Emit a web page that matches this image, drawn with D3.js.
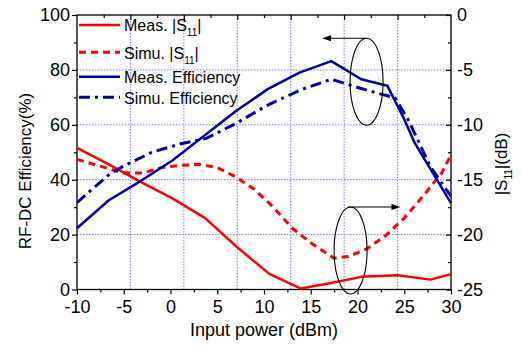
<!DOCTYPE html>
<html>
<head>
<meta charset="utf-8">
<script src="https://cdn.jsdelivr.net/npm/d3@7"></script>
<style>
  body { margin: 0; background: #fff; }
  svg { font-family: Arial, "Liberation Sans", sans-serif; }
</style>
</head>
<body>
<script>
// input power (dBm) vs efficiency (%) and |S11| (dB)

const measEff = [
  [-10, 22.3], [-6.6, 32.5], [-3.2, 39.5], [0.2, 47], [3.6, 56], [7, 65],
  [10.4, 73], [13.8, 79], [17.2, 83.2], [20.4, 76.6], [23.2, 74.2],
  [25, 62], [26.1, 53.5], [30, 31.5]
];
const simuEff = [
  [-10, 31.6], [-8.4, 36.5], [-6.4, 42.3], [-5, 45], [-2, 50], [1, 53],
  [3.8, 55], [7, 60.5], [10.3, 67], [13.9, 72.7], [17.2, 76.6],
  [20.3, 73.3], [24, 69.8], [25.4, 62], [27.8, 44.7], [30, 34]
];
const measS11 = [
  [-10, -12.1], [-6.6, -13.6], [-3.2, -15.2], [0.2, -16.7], [3.7, -18.5],
  [7.2, -21.2], [10.6, -23.6], [13.9, -24.9], [17.2, -24.4], [20.4, -23.85],
  [24.3, -23.7], [27.8, -24.1], [30, -23.6]
];
const simuS11 = [
  [-10, -13.15], [-7, -13.9], [-5, -14.4], [-3, -14.4], [-1, -13.9], [1, -13.7],
  [3, -13.6], [5, -13.9], [7, -14.75], [9, -15.9], [11, -17.5], [13, -19.4],
  [15, -20.75], [17.5, -22.15], [19, -22], [21, -21.3], [23, -20.1],
  [25, -18.5], [27, -16.5], [29, -14.4], [30, -12.75]
];

const xTicks = [-10, -5, 0, 5, 10, 15, 20, 25, 30];
const leftTicks = [0, 20, 40, 60, 80, 100];
const rightTicks = [-25, -20, -15, -10, -5, 0];

const width = 521, height = 347;
const margin = { top: 15, right: 70, bottom: 57.5, left: 77 };
const innerW = width - margin.left - margin.right;
const innerH = height - margin.top - margin.bottom;

const red = '#ff0000';
const blue = '#00009f';

const x = d3.scaleLinear().domain([-10, 30]).range([0, innerW]);
const yL = d3.scaleLinear().domain([0, 100]).range([innerH, 0]);
const yR = d3.scaleLinear().domain([-25, 0]).range([innerH, 0]);

const svg = d3.select('body').append('svg')
  .attr('width', width)
  .attr('height', height);

const g = svg.append('g')
  .attr('transform', `translate(${margin.left},${margin.top})`);

// grid: vertical lines split the range in 7, horizontal follow the left ticks
const nDiv = 7;
const gridX = d3.range(1, nDiv).map(i => -10 + i * 40 / nDiv);
g.append('g').selectAll('line')
  .data(gridX)
  .join('line')
  .attr('x1', d => x(d)).attr('x2', d => x(d))
  .attr('y1', 0).attr('y2', innerH)
  .attr('stroke', '#7a7aff').attr('stroke-width', 1)
  .attr('stroke-dasharray', '1.5,1.5');
g.append('g').selectAll('line')
  .data([20, 40, 60, 80])
  .join('line')
  .attr('x1', 0).attr('x2', innerW)
  .attr('y1', d => yL(d)).attr('y2', d => yL(d))
  .attr('stroke', '#7a7aff').attr('stroke-width', 1)
  .attr('stroke-dasharray', '1.5,1.5');

// axes (plain hyphen for negatives, like the original)
const fontSize = '18px';
const plain = d => String(d);
const minorX = d3.range(-7.5, 30, 5);
g.append('g')
  .attr('transform', `translate(0,${innerH})`)
  .call(d3.axisBottom(x).tickValues(minorX).tickSize(3).tickFormat(''))
  .call(a => a.select('.domain').remove());
g.append('g')
  .attr('transform', `translate(0,${innerH})`)
  .call(d3.axisBottom(x).tickValues(xTicks).tickSize(5).tickPadding(6).tickFormat(plain))
  .call(a => a.selectAll('text').style('font-size', fontSize))
  .call(a => a.select('.domain').remove());

const topMinor = d3.range(0, nDiv).map(i => -10 + (i + 0.5) * 40 / nDiv);
g.append('g')
  .call(d3.axisTop(x).tickValues(gridX).tickSizeInner(-5).tickSizeOuter(0).tickFormat(''))
  .call(a => a.select('.domain').remove());
g.append('g')
  .call(d3.axisTop(x).tickValues(topMinor).tickSizeInner(-3).tickSizeOuter(0).tickFormat(''))
  .call(a => a.select('.domain').remove());

g.append('g')
  .call(d3.axisLeft(yL).tickValues(d3.range(10, 100, 20)).tickSize(3).tickFormat(''))
  .call(a => a.select('.domain').remove());
g.append('g')
  .call(d3.axisLeft(yL).tickValues(leftTicks).tickSize(5).tickPadding(2).tickFormat(plain))
  .call(a => a.selectAll('text').style('font-size', fontSize))
  .call(a => a.select('.domain').remove());

g.append('g')
  .attr('transform', `translate(${innerW},0)`)
  .call(d3.axisRight(yR).tickValues(d3.range(-22.5, 0, 5)).tickSizeInner(-3).tickSizeOuter(0).tickFormat(''))
  .call(a => a.select('.domain').remove());
g.append('g')
  .attr('transform', `translate(${innerW},0)`)
  .call(d3.axisRight(yR).tickValues(rightTicks).tickSizeInner(-5).tickSizeOuter(0).tickPadding(6).tickFormat(plain))
  .call(a => a.selectAll('text').style('font-size', fontSize))
  .call(a => a.select('.domain').remove());

g.selectAll('.tick line').attr('stroke', '#000').attr('stroke-width', 1.2);
g.selectAll('.tick text').attr('fill', '#000');

// frame
g.append('rect')
  .attr('width', innerW).attr('height', innerH)
  .attr('fill', 'none').attr('stroke', '#000').attr('stroke-width', 1.3);

// curves
const lineL = d3.line().x(d => x(d[0])).y(d => yL(d[1]));
const lineR = d3.line().x(d => x(d[0])).y(d => yR(d[1]));

const series = [
  { name: 'Meas. |S', sub: true, data: measS11, line: lineR, color: red, dash: null, w: 2.5 },
  { name: 'Simu. |S', sub: true, data: simuS11, line: lineR, color: red, dash: '7,5', w: 3 },
  { name: 'Meas. Efficiency', data: measEff, line: lineL, color: blue, dash: null, w: 2.5 },
  { name: 'Simu. Efficiency', data: simuEff, line: lineL, color: blue, dash: '11,5,3,5', w: 3 }
];

g.append('g').selectAll('path')
  .data(series)
  .join('path')
  .attr('d', s => s.line(s.data))
  .attr('fill', 'none')
  .attr('stroke', s => s.color)
  .attr('stroke-width', s => s.w)
  .attr('stroke-dasharray', s => s.dash)
  .attr('stroke-linejoin', 'round');

// ellipses with arrows pointing at the axis each pair belongs to
const notes = [
  { cx: 20.97, cy: 75.7, to: 16.2, start: 20.9 },
  { cx: 19.26, cy: 14.2, to: 24.6, start: 19.0 }
];
const rx = 16.5, ry = 43.5;
const ann = g.append('g');
notes.forEach(n => {
  ann.append('ellipse')
    .attr('cx', x(n.cx)).attr('cy', yL(n.cy))
    .attr('rx', rx).attr('ry', ry)
    .attr('fill', 'none').attr('stroke', '#000').attr('stroke-width', 1.1);
  const ya = yL(n.cy) - ry;
  const x0 = x(n.start), x1 = x(n.to);
  const dir = Math.sign(x1 - x0);
  ann.append('line')
    .attr('x1', x0).attr('x2', x1 - dir * 6)
    .attr('y1', ya).attr('y2', ya)
    .attr('stroke', '#000').attr('stroke-width', 1.1);
  ann.append('path')
    .attr('d', `M${x1},${ya} L${x1 - dir * 9},${ya - 3} L${x1 - dir * 9},${ya + 3} Z`)
    .attr('fill', '#000');
});

// legend
const legendY = [25, 52.3, 76.7, 97.3];
const leg = svg.append('g');
series.forEach((s, i) => {
  const ly = legendY[i];
  leg.append('line')
    .attr('x1', 79).attr('x2', 120)
    .attr('y1', ly).attr('y2', ly)
    .attr('stroke', s.color)
    .attr('stroke-width', s.w)
    .attr('stroke-dasharray', s.dash);
  const t = leg.append('text')
    .attr('x', 124).attr('y', ly + 6.3)
    .style('font-size', '16px')
    .text(s.name);
  if (s.sub) {
    t.append('tspan').attr('dy', 5).style('font-size', '10px').text('11');
    t.append('tspan').attr('dy', -5).text('|');
  }
});

// axis titles
svg.append('text')
  .attr('x', margin.left + innerW / 2).attr('y', 336)
  .attr('text-anchor', 'middle')
  .style('font-size', '18px')
  .text('Input power (dBm)');

svg.append('text')
  .attr('transform', 'translate(31,171) rotate(-90)')
  .attr('text-anchor', 'middle')
  .style('font-size', '17px')
  .text('RF-DC Efficiency(%)');

const rt = svg.append('text')
  .attr('transform', 'translate(507,164) rotate(-90)')
  .attr('text-anchor', 'middle')
  .style('font-size', '17px');
rt.append('tspan').text('|S');
rt.append('tspan').attr('dy', 5).style('font-size', '10px').text('11');
rt.append('tspan').attr('dy', -5).text('|(dB)');
</script>
</body>
</html>
